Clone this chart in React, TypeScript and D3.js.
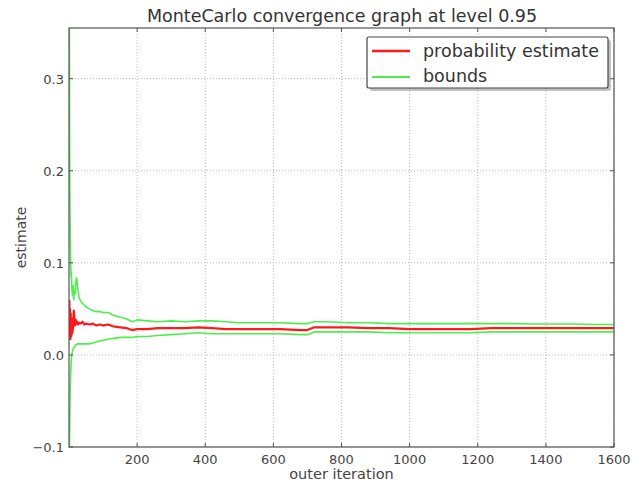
import React from "react";
import * as d3 from "d3";

// outer iteration sample points
const iterations = [
  1, 2, 3, 4, 5, 6, 7, 8, 9, 10, 12, 14, 16, 18, 20, 22, 24, 27, 30, 35, 40, 45, 50, 60, 70, 80, 90, 100,
  115, 130, 150, 170, 185, 200, 230, 260, 300, 340, 380, 420, 460, 500, 560, 620, 680, 700, 720, 760, 820,
  880, 940, 1000, 1060, 1120, 1180, 1240, 1300, 1360, 1420, 1480, 1540, 1600,
];

const estimate = [
  0.06, 0.02, 0.05, 0.017, 0.045, 0.02, 0.04, 0.022, 0.035, 0.024, 0.03, 0.048, 0.04, 0.032, 0.038, 0.034,
  0.036, 0.033, 0.035, 0.034, 0.036, 0.033, 0.034, 0.033, 0.034, 0.032, 0.033, 0.032, 0.033, 0.031, 0.03,
  0.029, 0.027, 0.028, 0.028, 0.029, 0.029, 0.029, 0.03, 0.029, 0.028, 0.028, 0.028, 0.028, 0.027, 0.027,
  0.03, 0.03, 0.03, 0.029, 0.029, 0.028, 0.028, 0.028, 0.028, 0.029, 0.029, 0.029, 0.029, 0.029, 0.029,
  0.029,
];

const upperBound = [
  0.36, 0.2, 0.15, 0.12, 0.1, 0.085, 0.09, 0.075, 0.07, 0.065, 0.075, 0.06, 0.07, 0.066, 0.078, 0.084,
  0.08, 0.068, 0.062, 0.058, 0.056, 0.054, 0.052, 0.05, 0.048, 0.047, 0.047, 0.046, 0.046, 0.043, 0.041,
  0.039, 0.036, 0.038, 0.037, 0.036, 0.037, 0.036, 0.037, 0.037, 0.036, 0.035, 0.035, 0.035, 0.034, 0.034,
  0.036, 0.036, 0.035, 0.035, 0.034, 0.034, 0.034, 0.034, 0.034, 0.034, 0.034, 0.0335, 0.0335, 0.0335,
  0.033, 0.033,
];

const lowerBound = [
  -0.11, -0.08, -0.05, -0.03, -0.02, -0.01, -0.005, 0.0, 0.002, 0.004, 0.006, 0.008, 0.009, 0.01, 0.011,
  0.011, 0.012, 0.012, 0.012, 0.012, 0.012, 0.012, 0.012, 0.012, 0.013, 0.014, 0.015, 0.016, 0.017, 0.018,
  0.019, 0.019, 0.019, 0.02, 0.02, 0.021, 0.022, 0.023, 0.024, 0.023, 0.023, 0.023, 0.023, 0.023, 0.022,
  0.022, 0.025, 0.025, 0.025, 0.025, 0.024, 0.024, 0.024, 0.024, 0.024, 0.025, 0.025, 0.025, 0.025, 0.025,
  0.025, 0.025,
];

const xTicks = [200, 400, 600, 800, 1000, 1200, 1400, 1600];
const yTicks = [-0.1, 0.0, 0.1, 0.2, 0.3];

const title = "MonteCarlo convergence graph at level 0.95";
const xLabel = "outer iteration";
const yLabel = "estimate";
const legendItems = [
  { label: "probability estimate", color: "#ff1a1a" },
  { label: "bounds", color: "#4cf04c" },
];

const W = 635;
const H = 486;
const margin = { top: 28, right: 21, bottom: 39, left: 69 };
const font = "'DejaVu Sans', sans-serif";

export default function App() {
  const x = d3.scaleLinear().domain([0, 1600]).range([margin.left, W - margin.right]);
  const y = d3.scaleLinear().domain([-0.1, 0.355]).range([H - margin.bottom, margin.top]);

  const line = (vals: number[]) =>
    d3
      .line<number>()
      .x((_, i) => x(iterations[i]))
      .y((d) => y(d))(vals) || "";

  const x0 = margin.left;
  const x1 = W - margin.right;
  const y0 = margin.top;
  const y1 = H - margin.bottom;

  return (
    <div style={{ position: "absolute", left: 0, top: 0 }}>
      <svg width={W} height={H} style={{ display: "block", background: "#fff" }}>
        <defs>
          <clipPath id="plot">
            <rect x={x0} y={y0} width={x1 - x0} height={y1 - y0} />
          </clipPath>
        </defs>

        {/* grid */}
        <g stroke="#b8b8b8" strokeWidth={1} strokeDasharray="1,2">
          {xTicks.map((t) => (
            <line key={"gx" + t} x1={x(t)} x2={x(t)} y1={y0} y2={y1} />
          ))}
          {yTicks.map((t) => (
            <line key={"gy" + t} x1={x0} x2={x1} y1={y(t)} y2={y(t)} />
          ))}
        </g>

        {/* series */}
        <g clipPath="url(#plot)" fill="none" strokeLinejoin="round">
          <path d={line(upperBound)} stroke="#4cf04c" strokeWidth={1.6} />
          <path d={line(lowerBound)} stroke="#4cf04c" strokeWidth={1.6} />
          <path d={line(estimate)} stroke="#ff1a1a" strokeWidth={2.2} />
        </g>

        {/* ticks inside on all sides */}
        <g stroke="#555" strokeWidth={1}>
          {xTicks.map((t) => (
            <g key={"tx" + t}>
              <line x1={x(t)} x2={x(t)} y1={y1} y2={y1 - 4} />
              <line x1={x(t)} x2={x(t)} y1={y0} y2={y0 + 4} />
            </g>
          ))}
          {yTicks.map((t) => (
            <g key={"ty" + t}>
              <line x1={x0} x2={x0 + 4} y1={y(t)} y2={y(t)} />
              <line x1={x1} x2={x1 - 4} y1={y(t)} y2={y(t)} />
            </g>
          ))}
        </g>

        <rect x={x0} y={y0} width={x1 - x0} height={y1 - y0} fill="none" stroke="#555" strokeWidth={1.2} />

        {/* tick labels */}
        <g fontFamily={font} fontSize={13} fill="#444">
          {xTicks.map((t) => (
            <text key={"lx" + t} x={x(t)} y={y1 + 17} textAnchor="middle">
              {t}
            </text>
          ))}
          {yTicks.map((t) => (
            <text key={"ly" + t} x={x0 - 5} y={y(t) + 5} textAnchor="end">
              {t < 0 ? "\u2212" + Math.abs(t).toFixed(1) : t.toFixed(1)}
            </text>
          ))}
        </g>

        {/* labels */}
        <text x={342} y={22} textAnchor="middle" fontFamily={font} fontSize={17.5} fill="#333">
          {title}
        </text>
        <text x={(x0 + x1) / 2} y={479} textAnchor="middle" fontFamily={font} fontSize={14.5} fill="#444">
          {xLabel}
        </text>
        <text
          transform={`translate(26,${(y0 + y1) / 2}) rotate(-90)`}
          textAnchor="middle"
          fontFamily={font}
          fontSize={14}
          fill="#444"
        >
          {yLabel}
        </text>

        {/* legend */}
        <g>
          <rect x={370} y={40} width={241} height={51} fill="#999" opacity={0.6} rx={2} />
          <rect x={367} y={37} width={241} height={51} fill="#fff" stroke="#444" strokeWidth={1.2} rx={2} />
          {legendItems.map((it, i) => (
            <g key={it.label}>
              <line x1={372} x2={410} y1={51 + i * 26} y2={51 + i * 26} stroke={it.color} strokeWidth={i === 0 ? 2.6 : 2.2} />
              <text x={423} y={57 + i * 25} fontFamily={font} fontSize={17.5} fill="#333">
                {it.label}
              </text>
            </g>
          ))}
        </g>
      </svg>
    </div>
  );
}
